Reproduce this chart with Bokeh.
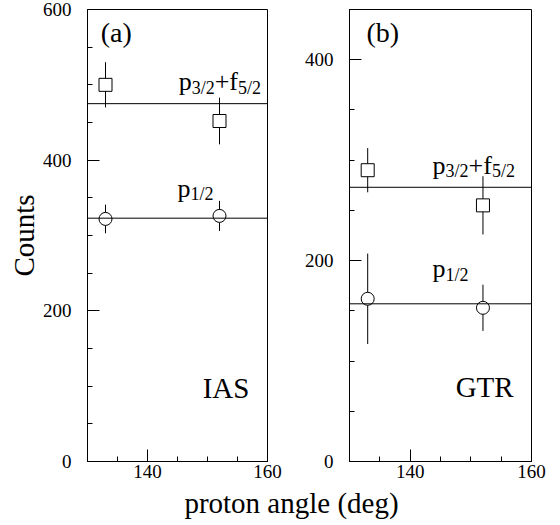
from bokeh.plotting import figure
from bokeh.models import Range1d, FixedTicker, Label, Span, ColumnDataSource
from bokeh.layouts import row, column
from bokeh.embed import file_html
from bokeh.resources import INLINE

# ---------------- data ----------------
angles = [133, 152]

# panel (a) IAS
a_p32 = [500, 452]
a_p32_err = [30, 31]
a_p12 = [322, 326]
a_p12_err = [19, 20]
a_fit_p32 = 475
a_fit_p12 = 323

# panel (b) GTR
b_p32 = [290, 255]
b_p32_err = [22, 29]
b_p12 = [162, 153]
b_p12_err = [45, 23]
b_fit_p32 = 273
b_fit_p12 = 157

x_ticks = [140, 160]
x_minor = [130, 135, 140, 145, 150, 155, 160]
a_y_ticks = [0, 200, 400, 600]
b_y_ticks = [0, 200, 400]

FONT = "Liberation Serif"
SHIFT = 9  # pixel correction for label baseline placement

# Times-metric widths (em) for building subscript labels
CW = {"p": 0.5, "f": 0.333, "+": 0.564, "/": 0.278}
for d in "0123456789":
    CW[d] = 0.5


def text_width(s, size):
    return sum(CW.get(c, 0.5) for c in s) * size


def label(p, x, y, txt, size, align="left", dx=0, dy=0):
    p.add_layout(Label(x=x, y=y, x_offset=dx, y_offset=dy + SHIFT, text=txt,
                       text_font=FONT, text_font_size=f"{size}px",
                       text_color="black", text_baseline="alphabetic",
                       text_align=align))


def add_sub_label(p, x, y, pieces, main=26, sub=18, drop=6):
    off = 0.0
    for txt, is_sub in pieces:
        size = sub if is_sub else main
        label(p, x, y, txt, size, dx=off, dy=-drop if is_sub else 0)
        off += text_width(txt, size)


def make_panel(ymax, yticks, left_border, right_border, frame_w, ylabel=None):
    p = figure(frame_width=frame_w, frame_height=452,
               x_range=Range1d(130, 160), y_range=Range1d(0, ymax),
               toolbar_location=None, output_backend="svg",
               min_border_left=left_border, min_border_right=right_border,
               min_border_top=9, min_border_bottom=26,
               background_fill_color="white", border_fill_color="white")
    p.xgrid.visible = False
    p.ygrid.visible = False
    p.outline_line_color = "black"
    p.outline_line_width = 1
    p.outline_line_alpha = 1

    p.xaxis.ticker = FixedTicker(ticks=x_ticks, minor_ticks=x_minor)
    p.yaxis.ticker = FixedTicker(ticks=yticks, minor_ticks=list(range(0, ymax + 1, 50)))
    for ax in (p.xaxis[0], p.yaxis[0]):
        ax.major_tick_in = 12
        ax.major_tick_out = 0
        ax.minor_tick_in = 5
        ax.minor_tick_out = 0
        ax.axis_line_color = "black"
        ax.major_tick_line_color = "black"
        ax.minor_tick_line_color = "black"
        ax.major_label_text_font = FONT
        ax.major_label_text_font_size = "19px"
        ax.major_label_text_color = "black"
    p.yaxis.major_label_standoff = 16
    p.xaxis.major_label_standoff = 3
    if ylabel:
        p.yaxis.axis_label = ylabel
        p.yaxis.axis_label_text_font = FONT
        p.yaxis.axis_label_text_font_size = "29px"
        p.yaxis.axis_label_text_font_style = "normal"
        p.yaxis.axis_label_text_color = "black"
        p.yaxis.axis_label_standoff = 0
    return p


def draw_data(p, p32, p32e, p12, p12e, fit32, fit12):
    for vals, errs, marker in ((p32, p32e, "square"), (p12, p12e, "circle")):
        src = ColumnDataSource(dict(
            x=angles, y=vals,
            lo=[v - e for v, e in zip(vals, errs)],
            hi=[v + e for v, e in zip(vals, errs)]))
        p.segment(x0="x", y0="lo", x1="x", y1="hi", source=src,
                  line_color="black", line_width=1)
        p.scatter(x="x", y="y", source=src, marker=marker, size=13,
                  fill_color="white", line_color="black", line_width=1)
    for v in (fit32, fit12):
        p.add_layout(Span(location=v, dimension="width", line_color="black",
                          line_width=1))


P32 = [("p", False), ("3/2", True), ("+", False), ("f", False), ("5/2", True)]
P12 = [("p", False), ("1/2", True)]

# ---------------- panel (a) ----------------
pa = make_panel(600, a_y_ticks, 87, 23, 180, ylabel="Counts")
draw_data(pa, a_p32, a_p32_err, a_p12, a_p12_err, a_fit_p32, a_fit_p12)
label(pa, 132.2, 557, "(a)", 28)
add_sub_label(pa, 145.2, 492, P32)
add_sub_label(pa, 145.0, 351, P12)
label(pa, 149.2, 86, "IAS", 29)

# ---------------- panel (b) ----------------
pb = make_panel(450, b_y_ticks, 59, 29, 182)
draw_data(pb, b_p32, b_p32_err, b_p12, b_p12_err, b_fit_p32, b_fit_p12)
label(pb, 132.8, 418, "(b)", 28)
add_sub_label(pb, 143.7, 286, P32)
add_sub_label(pb, 143.7, 183, P12)
label(pb, 147.5, 65, "GTR", 29)

# ---------------- shared x label ----------------
xl = figure(width=560, height=38, x_range=Range1d(0, 560), y_range=Range1d(0, 38),
            toolbar_location=None, output_backend="svg", x_axis_type=None,
            y_axis_type=None, min_border=0, outline_line_color=None,
            background_fill_color="white", border_fill_color="white")
xl.xgrid.visible = False
xl.ygrid.visible = False
label(xl, 291, 14, "proton angle (deg)", 29, align="center")

layout = column(row(pa, pb), xl)
open("out.html", "w").write(file_html(layout, INLINE))
